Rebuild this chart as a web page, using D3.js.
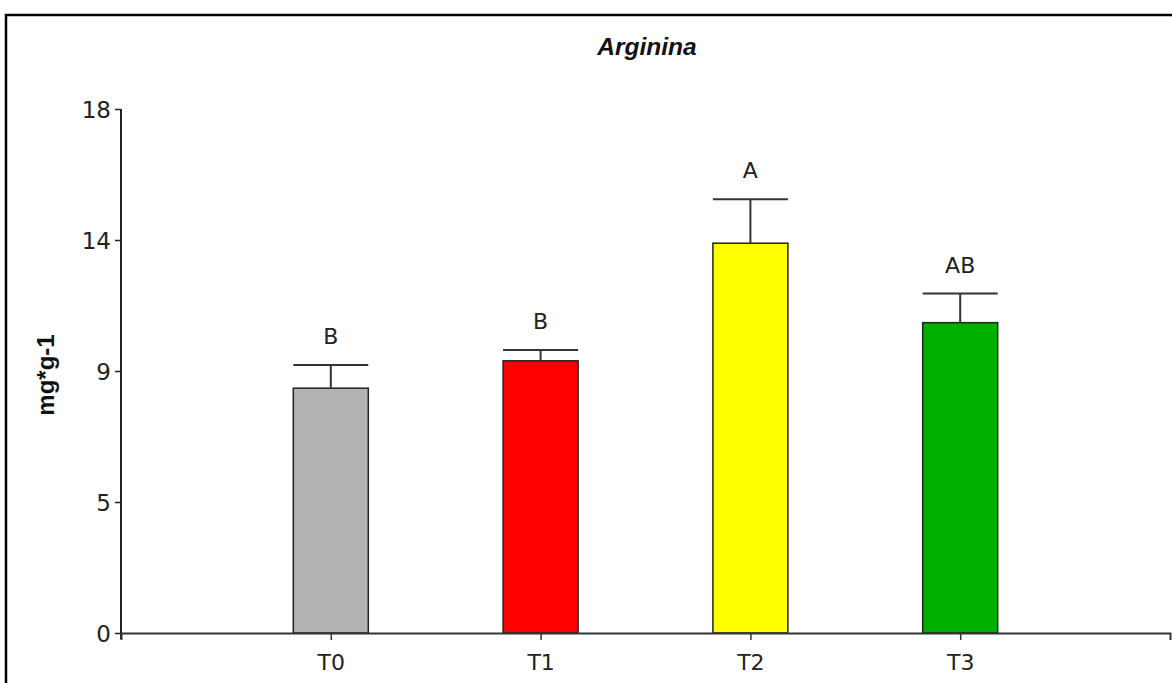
<!DOCTYPE html>
<html>
<head>
<meta charset="utf-8">
<script src="https://cdn.jsdelivr.net/npm/d3@7"></script>
<style>
  html, body { margin: 0; padding: 0; background: #fff; }
  svg { display: block; }
</style>
</head>
<body>
<svg id="chart" width="1172" height="683"></svg>
<script>
// Arginine content per treatment (mg*g-1), mean and standard deviation
const categories = ["T0", "T1", "T2", "T3"];
const means = [8.41, 9.35, 13.39, 10.66];
const errors = [0.80, 0.37, 1.51, 1.00];
const groupLetters = ["B", "B", "A", "AB"];
const barColors = ["#b3b3b3", "#ff0000", "#ffff00", "#00b000"];
const yTickValues = [0, 4.5, 9, 13.5, 18];
const yTickLabels = ["0", "5", "9", "14", "18"];

const svg = d3.select("#chart");
const font = "'DejaVu Sans', Verdana, sans-serif";

// outer frame
svg.append("rect")
  .attr("x", 6).attr("y", 15)
  .attr("width", 1200).attr("height", 700)
  .attr("fill", "none").attr("stroke", "#000").attr("stroke-width", 2.5);

const plotLeft = 121, plotRight = 1170, plotTop = 109, plotBottom = 633;

const x = d3.scalePoint().domain(categories).range([plotLeft, plotRight]).padding(1);
const y = d3.scaleLinear().domain([0, 18]).range([plotBottom, plotTop]);
const barW = 75;

// title
svg.append("text")
  .attr("x", 647).attr("y", 55)
  .attr("text-anchor", "middle")
  .attr("font-family", "'Liberation Sans', Arial, sans-serif")
  .attr("font-size", 24.5).attr("font-weight", "bold").attr("font-style", "italic")
  .attr("fill", "#111")
  .text("Arginina");

// y axis
const yAxis = d3.axisLeft(y)
  .tickValues(yTickValues)
  .tickFormat((d, i) => yTickLabels[i])
  .tickSizeOuter(0).tickSizeInner(6).tickPadding(4);
const gy = svg.append("g").attr("transform", `translate(${plotLeft},0)`).call(yAxis);
gy.select(".domain").attr("stroke", "#222").attr("stroke-width", 2)
  .attr("d", `M0,${plotTop}V${plotBottom + 6}`);
gy.selectAll(".tick line").attr("stroke", "#222").attr("stroke-width", 1.5);
gy.selectAll(".tick text")
  .attr("font-family", font).attr("font-size", 23).attr("fill", "#222")
  .attr("dy", "0.36em");

// y axis title
svg.append("text")
  .attr("transform", "translate(54,375) rotate(-90)")
  .attr("text-anchor", "middle")
  .attr("font-family", "'Liberation Sans', Arial, sans-serif")
  .attr("font-size", 24).attr("font-weight", "bold").attr("fill", "#111")
  .text("mg*g-1");

// bars
svg.append("g").selectAll("rect")
  .data(categories)
  .join("rect")
  .attr("x", d => x(d) - barW / 2)
  .attr("y", (d, i) => y(means[i]))
  .attr("width", barW)
  .attr("height", (d, i) => y(0) - y(means[i]))
  .attr("fill", (d, i) => barColors[i])
  .attr("stroke", "#222").attr("stroke-width", 1.5);

// error bars (upper half only)
const eb = svg.append("g").attr("stroke", "#333").attr("stroke-width", 2);
categories.forEach((c, i) => {
  const cx = x(c);
  const yTop = y(means[i] + errors[i]);
  eb.append("line").attr("x1", cx).attr("x2", cx)
    .attr("y1", y(means[i])).attr("y2", yTop);
  eb.append("line").attr("x1", cx - barW / 2).attr("x2", cx + barW / 2)
    .attr("y1", yTop).attr("y2", yTop);
});

// significance letters
svg.append("g").selectAll("text")
  .data(categories)
  .join("text")
  .attr("x", d => x(d))
  .attr("y", (d, i) => y(means[i] + errors[i]) - 21)
  .attr("text-anchor", "middle")
  .attr("font-family", font).attr("font-size", 22).attr("fill", "#222")
  .text((d, i) => groupLetters[i]);

// x axis
const xAxis = d3.axisBottom(x).tickSizeInner(7).tickSizeOuter(7).tickPadding(14);
const gx = svg.append("g").attr("transform", `translate(0,${plotBottom})`).call(xAxis);
gx.select(".domain").attr("stroke", "#333").attr("stroke-width", 2);
gx.selectAll(".tick line").attr("stroke", "#333").attr("stroke-width", 1.5);
gx.selectAll(".tick text")
  .attr("font-family", font).attr("font-size", 22).attr("fill", "#222");
</script>
</body>
</html>
